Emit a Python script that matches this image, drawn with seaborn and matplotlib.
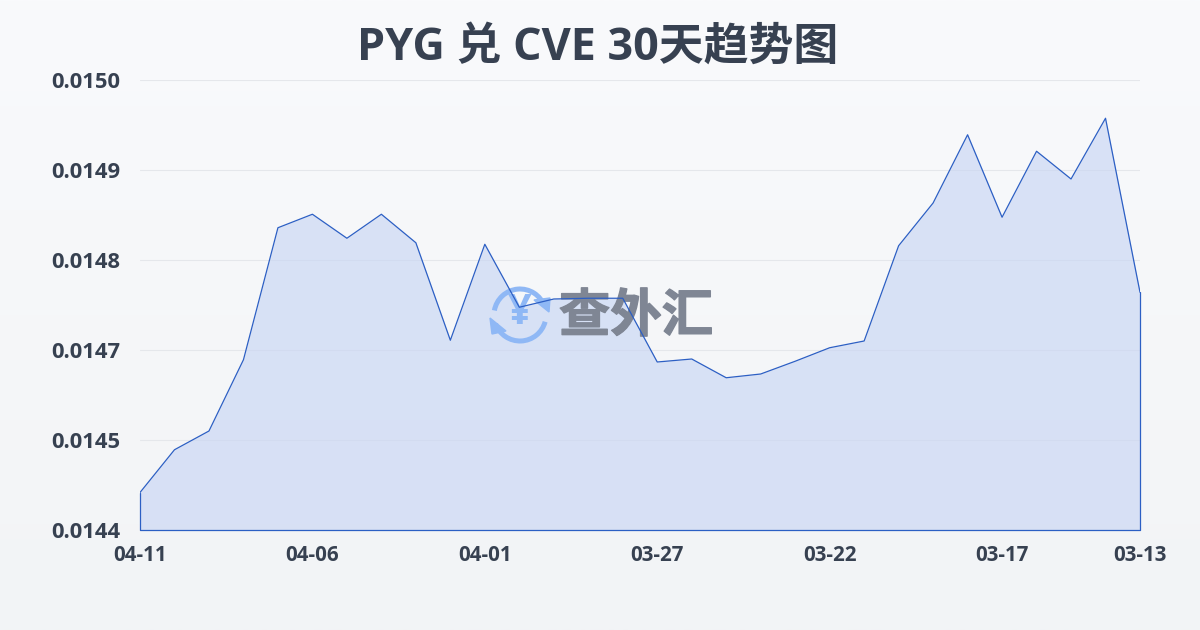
import numpy as np
import pandas as pd
import seaborn as sns
import matplotlib
matplotlib.use("Agg")
import matplotlib.pyplot as plt
import matplotlib.patheffects as pe
from matplotlib.colors import LinearSegmentedColormap
from matplotlib.patches import Arc, Polygon
from matplotlib.transforms import Affine2D

title = "PYG 兑 CVE 30天趋势图"
watermark = "查外汇"
rates = [0.014450, 0.014507, 0.014532, 0.014627, 0.014803, 0.014821, 0.014789,
         0.014821, 0.014783, 0.014653, 0.014781, 0.014697, 0.014708, 0.014709,
         0.014709, 0.014624, 0.014628, 0.014603, 0.014608, 0.014625, 0.014643,
         0.014652, 0.014779, 0.014836, 0.014927, 0.014817, 0.014905, 0.014868,
         0.014949, 0.014717]
position = list(range(30))
x_ticks = [0, 5, 10, 15, 20, 25, 29]
x_labels = ["04-11", "04-06", "04-01", "03-27", "03-22", "03-17", "03-13"]
y_ticks = [0.0144, 0.01452, 0.01464, 0.01476, 0.01488, 0.0150]
y_labels = ["0.0144", "0.0145", "0.0147", "0.0148", "0.0149", "0.0150"]

sns.set_theme(style="white")
plt.rcParams["font.family"] = ["Open Sans", "Noto Sans CJK SC", "DejaVu Sans"]

W, H = 1200, 630
fig = plt.figure(figsize=(12, 6.3), dpi=100)

bg = fig.add_axes([0, 0, 1, 1], zorder=0)
bg.axis("off")
cmap = LinearSegmentedColormap.from_list("bg", ["#f9fafc", "#f2f4f6"])
bg.imshow(np.linspace(0, 1, 256).reshape(-1, 1), cmap=cmap, aspect="auto", vmin=0, vmax=1)

ax = fig.add_axes([140 / W, 1 - 530 / H, 1000 / W, 450 / H], zorder=1)
ax.patch.set_alpha(0)
ax.set_xlim(0, 29)
ax.set_ylim(0.0144, 0.0150)

ax.fill_between(position, rates, 0.0144, facecolor="#c8d6f4", alpha=0.65, linewidth=0, zorder=1)
df = pd.DataFrame({"position": position, "rate": rates})
sns.lineplot(data=df, x="position", y="rate", ax=ax, color="#2c5fc4", linewidth=0.9, zorder=4)
# closing edges of the filled area
ax.plot([0, 0, 29, 29], [rates[0], 0.0144, 0.0144, rates[-1]], color="#2c5fc4",
        linewidth=0.9, clip_on=False, zorder=4)

ax.set_xticks(x_ticks, x_labels)
ax.set_yticks(y_ticks, y_labels)
ax.set_xlabel("")
ax.set_ylabel("")
ax.grid(axis="y", color="#e5e7eb", linewidth=0.8)
ax.set_axisbelow(True)
for s in ax.spines.values():
    s.set_visible(False)
ax.tick_params(axis="x", length=7, width=0.8, color="#e5e7eb", pad=4, labelsize=14.8, labelcolor="#374151")
ax.tick_params(axis="y", length=0, pad=14, labelsize=15.8, labelcolor="#374151")
for t in ax.get_xticklabels() + ax.get_yticklabels():
    t.set_fontweight("bold")

# pixel coordinates, origin at the top left of the figure
px = Affine2D().scale(1, -1).translate(0, H)

fig.text(598 / W, 1 - 48 / H, title, ha="center", va="center", fontsize=32.3,
         fontweight="bold", color="#374151")

# watermark
ax.text(636, 316, watermark, transform=px, ha="center", va="center", fontsize=37,
        fontweight="bold", color="#7f8694", zorder=3, clip_on=False,
        family=["Noto Sans CJK SC"],
        path_effects=[pe.withStroke(linewidth=1.0, foreground="#7f8694")])
blue = "#8fb8f5"
for t1, t2 in [(190, 340), (15, 160)]:
    ax.add_patch(Arc((520, 315), 52, 52, theta1=t1, theta2=t2, color=blue, linewidth=3.6,
                     transform=px, zorder=3, clip_on=False))
ax.add_patch(Polygon([[534, 300], [550, 298], [549, 312]], closed=True, color=blue,
                     transform=px, zorder=3, clip_on=False))
ax.add_patch(Polygon([[490, 318], [506, 331], [492, 334]], closed=True, color=blue,
                     transform=px, zorder=3, clip_on=False))
ax.text(520, 314, "¥", transform=px, ha="center", va="center", fontsize=30,
        fontweight="bold", color=blue, zorder=3, clip_on=False)

fig.savefig("out.png", dpi=100)
